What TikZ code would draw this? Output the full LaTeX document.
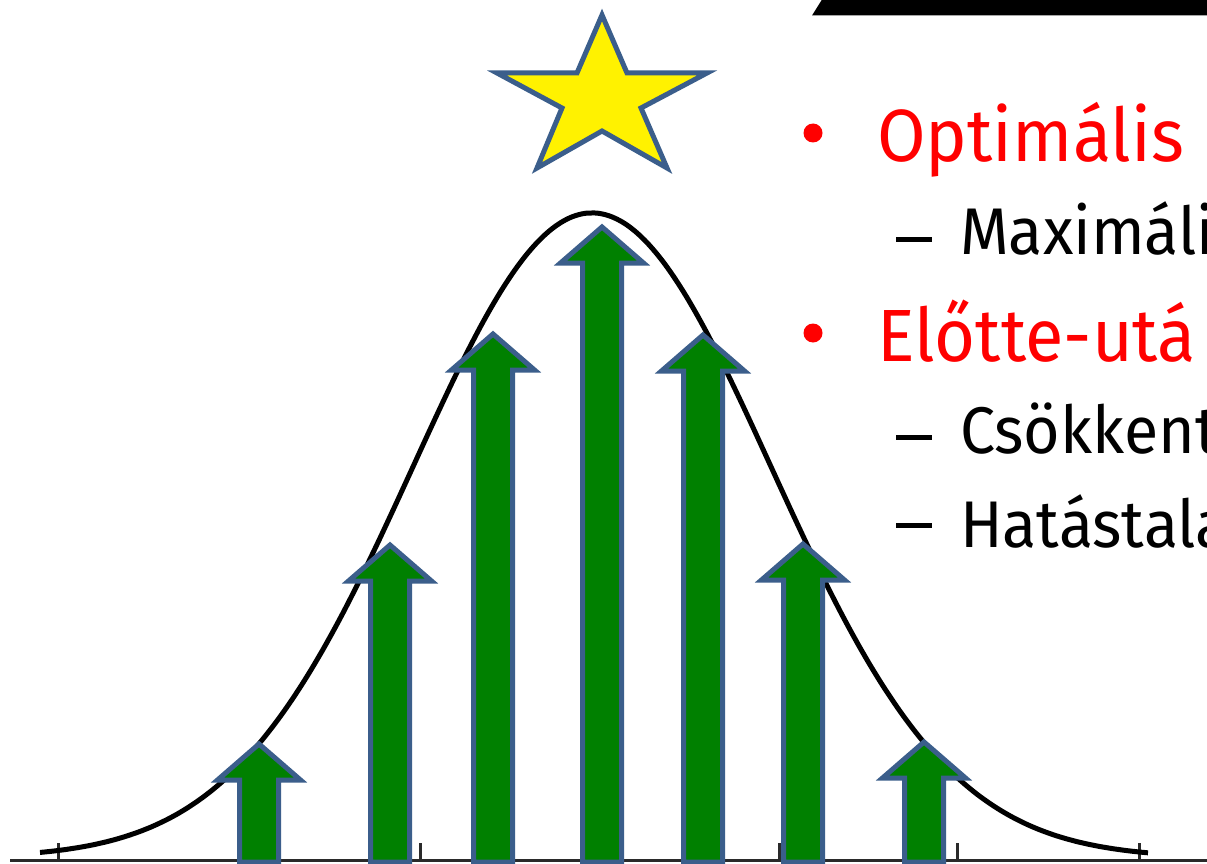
\documentclass[tikz,border=0pt]{standalone}
\usepackage{fontspec}
\setmainfont{Fira Sans}[FakeStretch=0.95]
\definecolor{arrowgreen}{HTML}{008000}
\definecolor{edgeblue}{HTML}{3B5E8B}
\definecolor{axisgray}{HTML}{2A2A2A}
\definecolor{bulletred}{HTML}{FF0000}
\tikzset{
  garrowstyle/.style={draw=edgeblue, fill=arrowgreen, line width=5pt, line join=miter},
  starstyle/.style={draw=edgeblue, fill=yellow, line width=5pt, line join=miter},
  bellstyle/.style={draw=black, line width=5pt},
  axisstyle/.style={draw=axisgray, line width=3pt},
  lvlone/.style={anchor=base west, inner sep=0pt, text=bulletred, font=\fontsize{74}{80}\selectfont},
  lvltwo/.style={anchor=base west, inner sep=0pt, text=black, font=\fontsize{66}{72}\selectfont},
}
\newcommand\garrow[2]{\draw[garrowstyle] (#1,#2) -- ({#1+41.5},{#2+36}) -- ({#1+19.5},{#2+36}) -- ({#1+19.5},862) -- ({#1-19.5},862) -- ({#1-19.5},{#2+36}) -- ({#1-41.5},{#2+36}) -- cycle;}
\begin{document}
\begin{tikzpicture}[x=1pt,y=-1pt]
\useasboundingbox (0,0) rectangle (1207,864);
\clip (0,0) rectangle (1207,864);
\fill[white] (0,0) rectangle (1207,864);
% black bar top right
\fill[black] (812,15.5) -- (821.7,0) -- (1207,0) -- (1207,15.5) -- cycle;
% axis
\draw[axisstyle] (10,860) -- (1207,860);
\foreach \tx in {58,420,779,957,1139} { \draw[axisstyle] (\tx,843) -- (\tx,860); }
% bell curve
\draw[bellstyle] plot[domain=40:1148, samples=220, smooth] (\x, {858-645*exp(-0.5*((\x-592)/179)^2)});
% arrows
\garrow{259}{744}
\garrow{390}{545}
\garrow{493}{334}
\garrow{602}{227}
\garrow{703}{335}
\garrow{803}{544}
\garrow{924}{742}
% star
\draw[starstyle] (602,15) -- (627,73) -- (707,73) -- (641,108) -- (667,168) -- (602,131) -- (537,168) -- (562,108) -- (497,73) -- (577,73) -- cycle;
% list markers
\fill[bulletred] (813,133) circle (9.5);
\fill[bulletred] (813,333) circle (9.5);
\fill[black] (896,236.5) rectangle (932,241.5);
\fill[black] (896,434.5) rectangle (932,439.5);
\fill[black] (896,522.5) rectangle (932,527.5);
% text
\node[lvlone] (t1) at (877,161) {Optimális};
\node[lvltwo] (t2) at (960,254) {Maximáli};
\node[lvlone] (t3) at (877,361) {Előtte-utá};
\node[lvltwo] (t4) at (960,453) {Csökkent};
\node[lvltwo] (t5) at (960,547) {Hatástala};
\end{tikzpicture}
\end{document}
